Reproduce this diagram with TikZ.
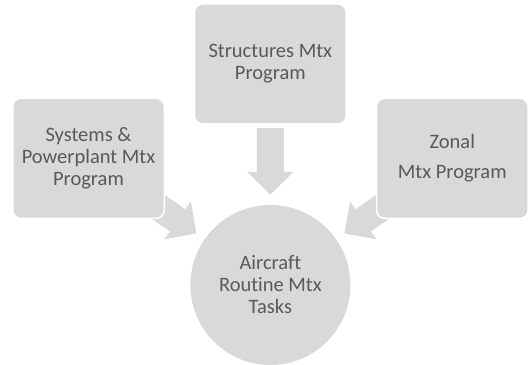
\documentclass[tikz,border=0pt]{standalone}
\usepackage{fontspec}
\setmainfont{Carlito}[Ligatures=NoCommon]
\usetikzlibrary{arrows.meta,backgrounds}
\definecolor{boxgray}{HTML}{D9D9D9}
\definecolor{textgray}{HTML}{595959}
\begin{document}
\begin{tikzpicture}[
        box/.style={fill=boxgray, draw=white, line width=1.5pt, rounded corners=8pt,
            minimum width=151.5pt, minimum height=120pt, align=center,
            text=textgray, font=\fontsize{20.5}{22}\selectfont},
        taskcircle/.style={circle, fill=boxgray, minimum size=160pt, align=center,
            text=textgray, font=\fontsize{20.5}{22}\selectfont},
        bigarrow/.style={boxgray, line width=27pt, -{Triangle[width=45pt,length=23pt]}}
    ]
        \useasboundingbox (0, 0) rectangle (529pt, 364pt);
        \node[box] (sys) at (88.5pt, 205.7pt) {Systems \&\\Powerplant Mtx\\Program};
        \node[box] (str) at (270.3pt, 300pt) {Structures Mtx\\Program};
        \node[box] (zon) at (452.3pt, 205.7pt) {Zonal\\[8pt]Mtx Program};
        \node[taskcircle] (task) at (270.4pt, 79pt) {Aircraft\\Routine Mtx\\Tasks};
        % 箭头放在方框下面
        \begin{scope}[on background layer]
            \draw[bigarrow, shorten <=3.3pt, shorten >=10pt] (str.south) -- (task.north);
            \draw[bigarrow, shorten <=65pt, shorten >=10pt] (sys.center) -- (task);
            \draw[bigarrow, shorten <=65pt, shorten >=10pt] (zon.center) -- (task);
        \end{scope}
    \end{tikzpicture}
\end{document}
